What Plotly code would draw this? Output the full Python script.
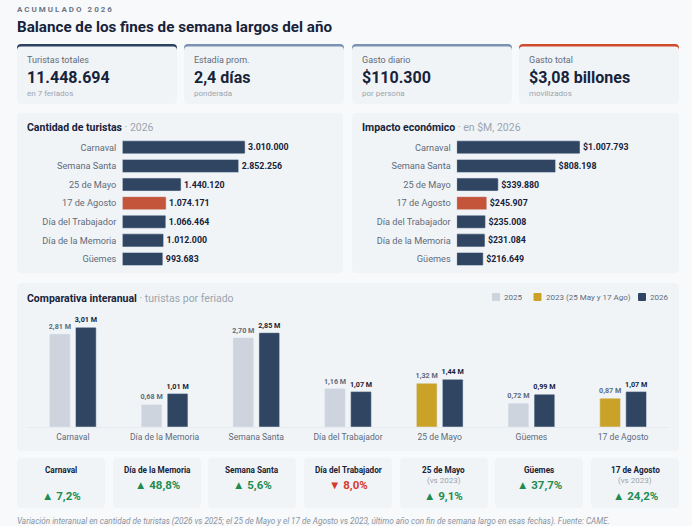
import plotly.graph_objects as go

W = 692
H = 526
FONT = "Roboto"
DARK = "#16233a"
GREY = "#5f6b7a"
LIGHT_TXT = "#9aa4b0"
NAVY = "#2f4562"
ORANGE = "#c4543a"
GOLD = "#c9a227"
PALE = "#cdd4dd"
CARD = "#f1f4f7"
GREEN = "#1e8c50"
RED = "#d63a2f"

ranking = ["Carnaval", "Semana Santa", "25 de Mayo", "17 de Agosto",
           "Día del Trabajador", "Día de la Memoria", "Güemes"]
turistas = [3010000, 2852256, 1440120, 1074171, 1066464, 1012000, 993683]
impacto = [1007793, 808198, 339880, 245907, 235008, 231084, 216649]
ranking_colors = [NAVY, NAVY, NAVY, ORANGE, NAVY, NAVY, NAVY]

feriados = ["Carnaval", "Día de la Memoria", "Semana Santa", "Día del Trabajador",
            "25 de Mayo", "Güemes", "17 de Agosto"]
serie_2025 = [2.81, 0.68, 2.70, 1.16, None, 0.72, None]
serie_2023 = [None, None, None, None, 1.32, None, 0.87]
serie_2026 = [3.01, 1.01, 2.85, 1.07, 1.44, 0.99, 1.07]

legend_names = ["2025", "2023 (25 May y 17 Ago)", "2026"]
legend_colors = [PALE, GOLD, NAVY]
legend_left = [492, 533.5, 638]

kpi_labels = ["Turistas totales", "Estadía prom.", "Gasto diario", "Gasto total"]
kpi_values = ["11.448.694", "2,4 días", "$110.300", "$3,08 billones"]
kpi_notes = ["en 7 feriados", "ponderada", "por persona", "movilizados"]
kpi_colors = ["#2d4260", "#7b93b3", "#7b93b3", "#cf4a2a"]
kpi_left = [17, 184, 352, 519]

var_notes = ["", "", "", "", "(vs 2023)", "", "(vs 2023)"]
var_values = [7.2, 48.8, 5.6, -8.0, 9.1, 37.7, 24.2]
var_left = [17, 113, 208, 304, 400, 495, 591]


def px(x):
    return x / W


def py(y):
    return 1 - y / H


def card(x0, y0, x1, y1, color, r=4):
    # rounded rect, pixel coords turned into paper coords
    p = (f"M {px(x0 + r)} {py(y0)} L {px(x1 - r)} {py(y0)} "
         f"Q {px(x1)} {py(y0)} {px(x1)} {py(y0 + r)} L {px(x1)} {py(y1 - r)} "
         f"Q {px(x1)} {py(y1)} {px(x1 - r)} {py(y1)} L {px(x0 + r)} {py(y1)} "
         f"Q {px(x0)} {py(y1)} {px(x0)} {py(y1 - r)} L {px(x0)} {py(y0 + r)} "
         f"Q {px(x0)} {py(y0)} {px(x0 + r)} {py(y0)} Z")
    return dict(type="path", path=p, xref="paper", yref="paper",
                fillcolor=color, line_width=0, layer="below")


def label(x, y, text, size, color, anchor="left", bold=False, italic=False):
    if bold:
        text = f"<b>{text}</b>"
    if italic:
        text = f"<i>{text}</i>"
    # annotations carry about 2px of padding on the left
    shift = -2 if anchor == "left" else 0
    return dict(x=px(x), y=py(y), xref="paper", yref="paper", text=text, showarrow=False,
                xanchor=anchor, yanchor="middle", align=anchor, xshift=shift,
                font=dict(family=FONT, size=size, color=color))


shapes = []
notes = []

notes.append(label(17, 9.5, "ACUMULADO 2026", 8, "#6b7684", bold=True))
notes.append(label(17, 27, "Balance de los fines de semana largos del año", 15.2, DARK, bold=True))

for i in range(4):
    x = kpi_left[i]
    shapes.append(card(x, 44, x + 160, 60, kpi_colors[i]))
    shapes.append(card(x, 46.5, x + 160, 104, CARD))
    notes.append(label(x + 9.5, 60, kpi_labels[i], 9, GREY))
    notes.append(label(x + 9.5, 77.5, kpi_values[i], 16, DARK, bold=True))
    notes.append(label(x + 9.5, 93.5, kpi_notes[i], 8, LIGHT_TXT))

shapes.append(card(17, 113, 343, 273, CARD))
shapes.append(card(352, 113, 679, 273, CARD))
shapes.append(card(17, 283, 679, 451, CARD))

notes.append(label(27, 128, f"<b>Cantidad de turistas</b><span style='color:{LIGHT_TXT}'> · 2026</span>", 10.5, DARK))
notes.append(label(362, 128, f"<b>Impacto económico</b><span style='color:{LIGHT_TXT}'> · en $M, 2026</span>", 10.5, DARK))
notes.append(label(27, 298, f"<b>Comparativa interanual</b><span style='color:{LIGHT_TXT}'> · turistas por feriado</span>", 10.5, DARK))

# legend drawn by hand, the native one cannot get this tight
for i in range(3):
    x = legend_left[i]
    shapes.append(card(x, 293, x + 8, 301, legend_colors[i], r=1))
    notes.append(label(x + 12, 297.5, legend_names[i], 8, GREY))

for i in range(7):
    x = var_left[i]
    mid = x + 44
    shapes.append(card(x, 458, x + 88, 508, CARD))
    notes.append(label(mid, 470, feriados[i], 8.2, DARK, "center", bold=True))
    if var_notes[i]:
        notes.append(label(mid, 480, var_notes[i], 8, LIGHT_TXT, "center"))
    v = var_values[i]
    arrow = "▲" if v > 0 else "▼"
    vy = 495.5 if var_notes[i] or i == 0 else 485
    txt = f"{arrow} {abs(v):.1f}%".replace(".", ",")
    notes.append(label(mid, vy, txt, 11.5, GREEN if v > 0 else RED, "center", bold=True))

notes.append(label(17, 521, "Variación interanual en cantidad de turistas (2026 vs 2025; el 25 de Mayo y el 17 de Agosto "
                            "vs 2023, último año con fin de semana largo en esas fechas). Fuente: CAME.",
                   8.2, "#8a94a1", italic=True))

fig = go.Figure()

fig.add_trace(go.Bar(y=ranking, x=turistas, orientation="h", marker=dict(color=ranking_colors, cornerradius=1),
                     texttemplate="<b>%{x:,d}</b>", textposition="outside", cliponaxis=False,
                     textfont=dict(family=FONT, size=8.8, color=DARK), constraintext="none",
                     showlegend=False, xaxis="x", yaxis="y", hoverinfo="skip"))
fig.add_trace(go.Bar(y=ranking, x=impacto, orientation="h", marker=dict(color=ranking_colors, cornerradius=1),
                     texttemplate="<b>$%{x:,d}</b>", textposition="outside", cliponaxis=False,
                     textfont=dict(family=FONT, size=8.8, color=DARK), constraintext="none",
                     showlegend=False, xaxis="x2", yaxis="y2", hoverinfo="skip"))

fig.add_trace(go.Bar(x=feriados, y=serie_2025, name="2025", offsetgroup="prev", marker=dict(color=PALE, cornerradius=1),
                     texttemplate="<b>%{y:.2f} M</b>", textposition="outside", cliponaxis=False,
                     textfont=dict(family=FONT, size=7.2, color=GREY), constraintext="none",
                     showlegend=False, xaxis="x3", yaxis="y3"))
fig.add_trace(go.Bar(x=feriados, y=serie_2023, name="2023 (25 May y 17 Ago)", offsetgroup="prev", marker=dict(color=GOLD, cornerradius=1),
                     texttemplate="<b>%{y:.2f} M</b>", textposition="outside", cliponaxis=False,
                     textfont=dict(family=FONT, size=7.2, color=GREY), constraintext="none",
                     showlegend=False, xaxis="x3", yaxis="y3"))
fig.add_trace(go.Bar(x=feriados, y=serie_2026, name="2026", offsetgroup="cur", marker=dict(color=NAVY, cornerradius=1),
                     texttemplate="<b>%{y:.2f} M</b>", textposition="outside", cliponaxis=False,
                     textfont=dict(family=FONT, size=7.2, color=DARK), constraintext="none",
                     showlegend=False, xaxis="x3", yaxis="y3"))

hbar_y = dict(autorange="reversed", showgrid=False, zeroline=False, showline=False, ticks="",
              tickfont=dict(family=FONT, size=9.2, color=GREY), ticklabelstandoff=5)
hbar_x = dict(showgrid=False, zeroline=False, showline=False, showticklabels=False)

fig.update_layout(
    width=W, height=H, autosize=False,
    margin=dict(l=0, r=0, t=0, b=0),
    paper_bgcolor="#f8f9fb", plot_bgcolor="rgba(0,0,0,0)",
    separators=",.",
    barmode="group", bargap=0.433, bargroupgap=0.204,
    shapes=shapes, annotations=notes,
    font=dict(family=FONT),
    showlegend=False,
    xaxis=dict(hbar_x, domain=[px(122.3), px(343)], range=[0, 5410000], anchor="y"),
    yaxis=dict(hbar_y, domain=[py(268.3), py(138)], anchor="x"),
    xaxis2=dict(hbar_x, domain=[px(456.7), px(679)], range=[0, 1817000], anchor="y2"),
    yaxis2=dict(hbar_y, domain=[py(268.3), py(138)], anchor="x2"),
    xaxis3=dict(domain=[px(27), px(669)], showgrid=False, zeroline=False, showline=True,
                linecolor="#e8ebef", linewidth=1, ticks="", anchor="y3",
                tickfont=dict(family=FONT, size=8.6, color=GREY), ticklabelstandoff=2,
                categoryorder="array", categoryarray=feriados),
    yaxis3=dict(domain=[py(427), py(310)], range=[0, 117 / 33.1], showgrid=False, zeroline=False,
                showticklabels=False, anchor="x3"),
)
fig.update_traces(selector=dict(orientation="h"), width=0.7)

# letter spacing of the small heading has no plotly option
post = """
document.body.style.margin = '0';
document.querySelectorAll('.annotation-text').forEach(function (t) {
  if (t.textContent === 'ACUMULADO 2026') { t.style.letterSpacing = '2px'; }
});
"""
fig.write_html("out.html", post_script=post, config=dict(displayModeBar=False))
